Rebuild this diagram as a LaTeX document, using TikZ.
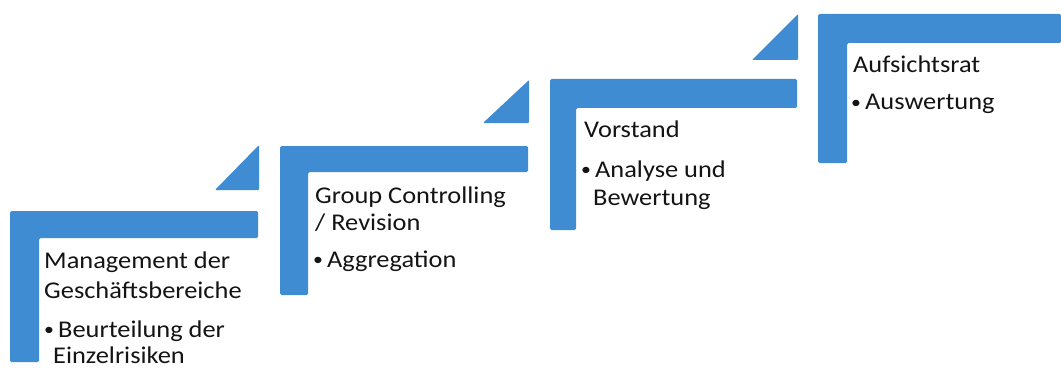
\documentclass[tikz,border=0pt]{standalone}
\usepackage{fontspec}
\setmainfont[FakeStretch=1.1]{Carlito}
\definecolor{stepblue}{RGB}{64,140,210}
\definecolor{txt}{RGB}{20,20,20}
\newcommand{\blt}{\makebox[14pt][l]{\raisebox{1.5pt}{\fontsize{18}{18}\selectfont •}}}
\begin{document}
\begin{tikzpicture}[x=1pt,y=-1pt,
  bar/.style={fill=stepblue,draw=none,rounded corners=1.5pt},
  tri/.style={fill=stepblue,draw=none,rounded corners=1pt},
  lbl/.style={anchor=base west,inner sep=0pt,text=txt,font=\fontsize{24}{28}\selectfont}]
\useasboundingbox (0,0) rectangle (1061,369);
\fill[white] (0,0) rectangle (1061,369);
% step 1
\path[bar] (10,211) -- (258,211) -- (258,238) -- (39,238) -- (39,362) -- (10,362) -- cycle;
\path[tri] (259,145) -- (259,190) -- (215,190) -- cycle;
% step 2
\path[bar] (280,146) -- (528,146) -- (528,172) -- (308,172) -- (308,295) -- (280,295) -- cycle;
\path[tri] (529,80) -- (529,123) -- (483,123) -- cycle;
% step 3
\path[bar] (550,79) -- (797,79) -- (797,108) -- (576,108) -- (576,230) -- (550,230) -- cycle;
\path[tri] (798,14) -- (798,60) -- (752,60) -- cycle;
% step 4
\path[bar] (818,14) -- (1061,14) -- (1061,43) -- (847,43) -- (847,163) -- (818,163) -- cycle;
% texts
\node[lbl] (s1a) at (44,268) {Management der};
\node[lbl] (s1b) at (44,298) {Geschäftsbereiche};
\node[lbl] (s1c) at (44,337) {\blt Beurteilung der};
\node[lbl] (s1d) at (53,363) {Einzelrisiken};
\node[lbl] (s2a) at (315,203) {Group Controlling};
\node[lbl] (s2b) at (315,230) {/ Revision};
\node[lbl] (s2c) at (313,267) {\blt Aggregation};
\node[lbl] (s3a) at (584,137) {Vorstand};
\node[lbl] (s3b) at (581,177) {\blt Analyse und};
\node[lbl] (s3c) at (593,205) {Bewertung};
\node[lbl] (s4a) at (853,73) {Aufsichtsrat};
\node[lbl] (s4b) at (851,110) {\blt Auswertung};
\end{tikzpicture}
\end{document}
